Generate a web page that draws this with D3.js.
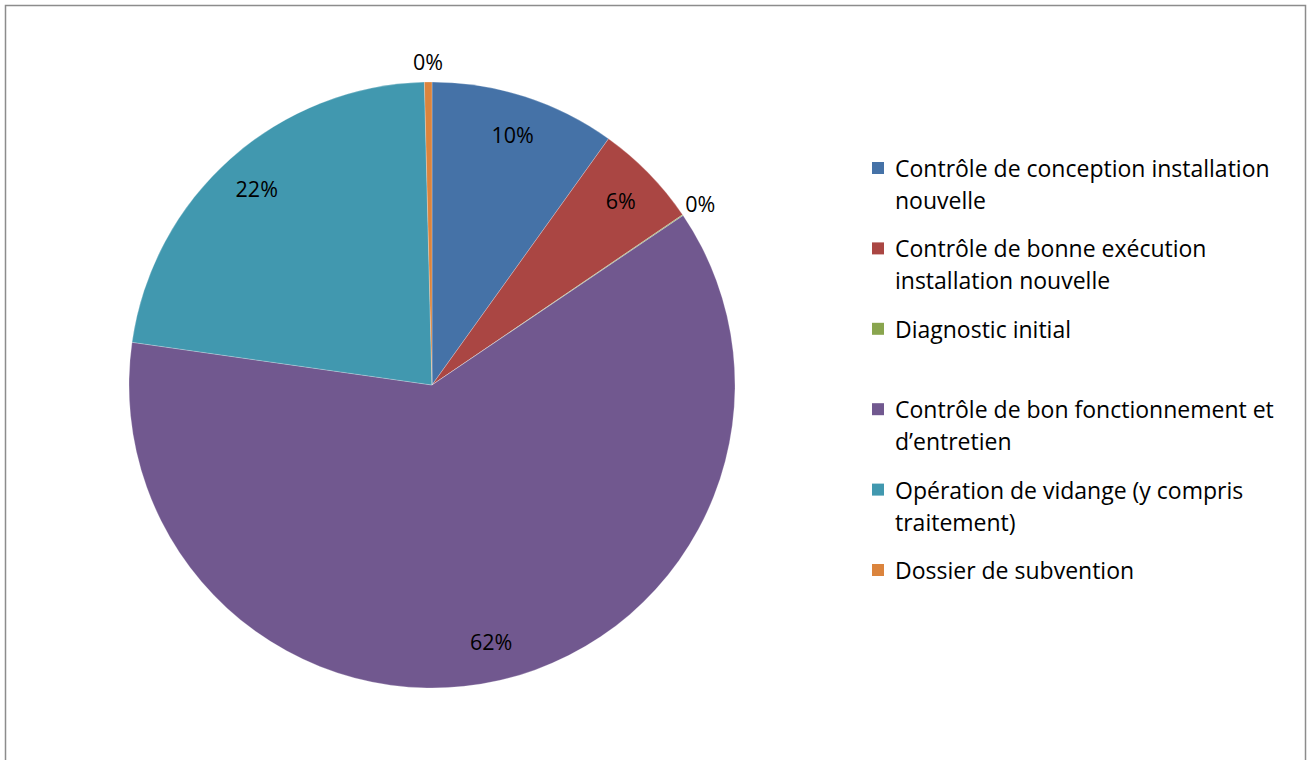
<!DOCTYPE html>
<html>
<head>
<meta charset="utf-8">
<script src="https://cdn.jsdelivr.net/npm/d3@7"></script>
<style>
  body { margin: 0; background: #fff; }
  svg text { font-family: 'Open Sans', sans-serif; fill: #000; }
</style>
</head>
<body>
<div class="PieChart"></div>
<script>
const categories = [
  'Contrôle de conception installation\nnouvelle',
  'Contrôle de bonne exécution\ninstallation nouvelle',
  'Diagnostic initial',
  'Contrôle de bon fonctionnement et\nd’entretien',
  'Opération de vidange (y compris\ntraitement)',
  'Dossier de subvention'
];
const values = [9.9, 5.6, 0.05, 61.7, 22.35, 0.4];
const colors = ['#4572A7', '#AA4643', '#89A54E', '#71588F', '#4198AF', '#DB843D'];

const width = 1307;
const height = 760;
const center = {x: 432, y: 385};
const radius = 303;

const svg = d3.select('.PieChart')
  .append('svg')
  .attr('width', width)
  .attr('height', height);

// outer frame
svg.append('rect')
  .attr('x', 5.5)
  .attr('y', 5.5)
  .attr('width', 1300)
  .attr('height', 780)
  .attr('fill', 'none')
  .attr('stroke', '#8c8c8c')
  .attr('stroke-width', 1.5);

const total = d3.sum(values);
const pie = d3.pie().sort(null).value(d => d);
const arcs = pie(values);

const arc = d3.arc().innerRadius(0).outerRadius(radius);
const labelArc = d3.arc().innerRadius(radius * 0.87).outerRadius(radius * 0.87);
const outerArc = d3.arc().innerRadius(radius + 21).outerRadius(radius + 21);

const g = svg.append('g')
  .attr('transform', `translate(${center.x},${center.y})`);

g.selectAll('path')
  .data(arcs)
  .enter().append('path')
  .attr('d', arc)
  .attr('fill', (d, i) => colors[i])
  .attr('stroke', '#ffffff')
  .attr('stroke-opacity', 0.4)
  .attr('stroke-width', 0.6);

// percentage labels
g.selectAll('text.pct')
  .data(arcs)
  .enter().append('text')
  .attr('class', 'pct')
  .attr('transform', d => {
    const pct = d.data / total * 100;
    const c = pct < 1 ? outerArc.centroid(d) : labelArc.centroid(d);
    return `translate(${c[0]},${c[1]})`;
  })
  .attr('text-anchor', 'middle')
  .attr('dominant-baseline', 'central')
  .style('font-size', '21.5px')
  .text(d => Math.round(d.data / total * 100) + '%');

// legend
const legend = svg.append('g')
  .attr('class', 'legend')
  .attr('transform', 'translate(872,168)');

const entry = legend.selectAll('g')
  .data(categories)
  .enter().append('g')
  .attr('transform', (d, i) => `translate(0,${i * 80.4})`);

entry.append('rect')
  .attr('y', -6)
  .attr('width', 12)
  .attr('height', 12)
  .attr('fill', (d, i) => colors[i]);

entry.append('text')
  .attr('x', 23)
  .style('font-size', '23px')
  .selectAll('tspan')
  .data(d => d.split('\n'))
  .enter().append('tspan')
  .attr('x', 23)
  .attr('y', (d, i) => i * 32)
  .attr('dominant-baseline', 'central')
  .text(d => d);
</script>
</body>
</html>
